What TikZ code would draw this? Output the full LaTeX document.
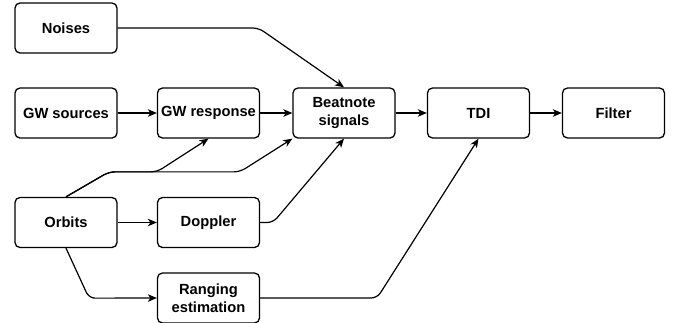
\documentclass[tikz,border=0pt]{standalone}
\usepackage{fontspec}
\setmainfont{Liberation Sans}
\usetikzlibrary{arrows.meta}
\begin{document}
\begin{tikzpicture}[x=1pt, y=-1pt,
    block/.style={draw, line width=1.3pt, rounded corners=5pt,
        minimum width=102pt, minimum height=50pt, align=center,
        font=\fontsize{14.7}{17.5}\selectfont\bfseries},
    link/.style={line width=1.2pt, rounded corners=6pt,
        -{Stealth[length=9pt, width=7.5pt, inset=2.5pt]}}]
    \useasboundingbox (0,0) rectangle (688,322);
    % blocks
    \node[block] (noises) at (66,28) {Noises};
    \node[block] (sources) at (66,113) {GW sources};
    \node[block] (response) at (208.5,113) {GW response};
    \node[block] (beat) at (344,113) {Beatnote\\signals};
    \node[block] (tdi) at (478.5,113) {TDI};
    \node[block] (filter) at (613.5,113) {Filter};
    \node[block] (orbits) at (66,222.5) {Orbits};
    \node[block] (doppler) at (208.5,222.5) {Doppler};
    \node[block] (ranging) at (208.5,298) {Ranging\\estimation};
    % links
    \draw[link] (sources) -- (response);
    \draw[link] (response) -- (beat);
    \draw[link] (beat) -- (tdi);
    \draw[link] (tdi) -- (filter);
    \draw[link] (orbits) -- (doppler);
    \draw[link] (noises.east) -- ++(141,0) -- (beat.north);
    \draw[link] (orbits.north) -- ++(43,-25) -- ++(48,0) -- (response.south);
    \draw[link] (orbits.north) -- ++(43,-25) -- ++(131,0) -- (beat.south west);
    \draw[link] (doppler.east) -- ++(13,0) -- (beat.south);
    \draw[link] (orbits.south) -- ++(23,50) -- (ranging.west);
    \draw[link] (ranging.east) -- ++(117,0) -- (tdi.south);
\end{tikzpicture}
\end{document}
